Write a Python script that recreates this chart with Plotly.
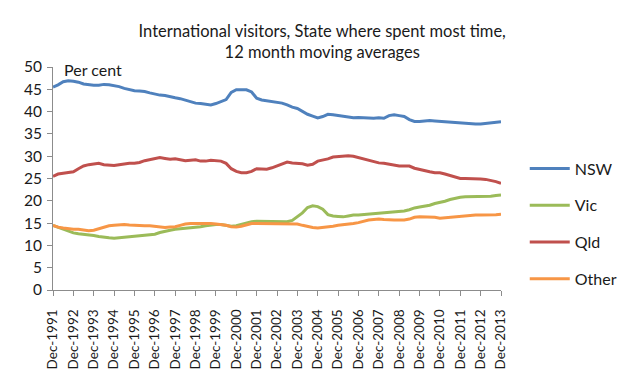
import pandas as pd
import plotly.graph_objects as go

# Quarterly observations, Dec-1991 to Dec-2013 (12 month moving averages, per cent)
quarters = pd.date_range("1991-12-01", "2013-12-01", freq="3MS")

nsw = [45.5, 46.0, 46.7, 46.9, 46.8, 46.6, 46.2, 46.0, 45.9, 45.9, 46.1, 46.0,
       45.8, 45.6, 45.2, 44.9, 44.7, 44.6, 44.5, 44.2, 43.9, 43.7, 43.6, 43.3,
       43.1, 42.9, 42.6, 42.2, 41.9, 41.8, 41.7, 41.5, 41.8, 42.2, 42.7, 44.3,
       44.9, 44.9, 44.9, 44.4, 43.0, 42.6, 42.4, 42.2, 42.1, 41.9, 41.5, 41.0,
       40.7, 40.0, 39.4, 39.0, 38.6, 38.9, 39.4, 39.3, 39.1, 39.0, 38.8, 38.6,
       38.7, 38.6, 38.5, 38.5, 38.6, 38.5, 39.1, 39.3, 39.1, 38.9, 38.2, 37.8,
       37.8, 37.9, 38.0, 37.9, 37.8, 37.7, 37.6, 37.5, 37.4, 37.3, 37.2, 37.2,
       37.2, 37.3, 37.5, 37.6, 37.7]

vic = [14.5, 14.1, 13.7, 13.2, 12.8, 12.6, 12.5, 12.3, 12.2, 12.0, 11.8, 11.7,
       11.6, 11.7, 11.8, 11.9, 12.0, 12.1, 12.2, 12.4, 12.5, 12.9, 13.2, 13.4,
       13.6, 13.7, 13.8, 13.9, 14.0, 14.2, 14.4, 14.6, 14.7, 14.7, 14.5, 14.3,
       14.4, 14.7, 15.0, 15.3, 15.4, 15.4, 15.4, 15.4, 15.3, 15.3, 15.3, 15.6,
       16.4, 17.3, 18.5, 18.9, 18.7, 18.1, 16.9, 16.6, 16.5, 16.4, 16.6, 16.8,
       16.8, 16.9, 17.0, 17.0, 17.1, 17.2, 17.3, 17.4, 17.6, 17.7, 18.0, 18.4,
       18.6, 18.8, 19.0, 19.4, 19.6, 19.9, 20.3, 20.6, 20.8, 20.9, 20.9, 20.9,
       20.9, 20.9, 21.0, 21.2, 21.3]

qld = [25.5, 26.0, 26.2, 26.3, 26.5, 27.2, 27.8, 28.1, 28.3, 28.4, 28.1, 28.0,
       27.9, 28.1, 28.3, 28.4, 28.4, 28.6, 29.0, 29.2, 29.4, 29.7, 29.5, 29.3,
       29.4, 29.2, 29.0, 29.1, 29.2, 28.9, 28.9, 29.1, 29.0, 28.9, 28.4, 27.2,
       26.6, 26.3, 26.3, 26.6, 27.2, 27.1, 27.1, 27.4, 27.8, 28.3, 28.7, 28.5,
       28.4, 28.3, 28.0, 28.2, 28.9, 29.1, 29.4, 29.8, 29.9, 30.0, 30.1, 30.0,
       29.7, 29.4, 29.1, 28.8, 28.5, 28.4, 28.2, 27.9, 27.8, 27.8, 27.8, 27.3,
       27.0, 26.8, 26.5, 26.3, 26.3, 26.0, 25.7, 25.3, 25.0, 25.0, 25.0, 25.0,
       24.9, 24.8, 24.6, 24.3, 23.9]

other = [14.5, 14.1, 13.9, 13.7, 13.6, 13.6, 13.5, 13.3, 13.4, 13.7, 14.1, 14.4,
         14.5, 14.6, 14.7, 14.6, 14.5, 14.5, 14.4, 14.4, 14.3, 14.1, 14.0, 14.1,
         14.2, 14.5, 14.8, 14.9, 14.9, 14.9, 15.0, 14.9, 14.8, 14.7, 14.5, 14.2,
         14.1, 14.3, 14.6, 14.9, 14.9, 14.9, 14.9, 14.9, 14.9, 14.9, 14.9, 14.9,
         14.8, 14.5, 14.2, 14.0, 13.9, 14.0, 14.1, 14.3, 14.5, 14.6, 14.8, 14.9,
         15.1, 15.4, 15.7, 15.8, 15.9, 15.8, 15.7, 15.7, 15.7, 15.7, 15.9, 16.3,
         16.4, 16.4, 16.4, 16.3, 16.1, 16.2, 16.4, 16.5, 16.6, 16.7, 16.8, 16.8,
         16.8, 16.8, 16.9, 16.9, 17.0]

tick_years = list(range(1991, 2014))
tick_dates = [f"{y}-12-01" for y in tick_years]
tick_text = [f"Dec-{y}" for y in tick_years]

series = [("NSW", nsw, "#4F81BD"), ("Vic", vic, "#9BBB59"),
          ("Qld", qld, "#C0504D"), ("Other", other, "#F79646")]

FONT = "Lato"
TXT = "#1a1a1a"
fig = go.Figure()
for name, vals, col in series:
    fig.add_trace(go.Scatter(x=quarters, y=vals, mode="lines", name=name,
                             legendgroup=name,
                             line=dict(color=col, width=3)))

axis_col = "#8C8C8C"
fig.update_layout(
    width=631, height=375,
    margin=dict(l=45, r=138, t=59, b=93),
    paper_bgcolor="white", plot_bgcolor="white",
    font=dict(family=FONT, size=14, color=TXT),
    title=dict(text="International visitors, State where spent most time,<br>12 month moving averages",
               x=0.498, xanchor="center", y=0.924, yanchor="top",
               font=dict(family=FONT, size=16.5, color=TXT)),
    xaxis=dict(type="date", range=["1991-12-01", "2013-12-01"],
               tickvals=tick_dates, ticktext=tick_text, tickangle=-90,
               ticks="outside", ticklen=5, tickcolor=axis_col,
               showline=True, linecolor=axis_col, linewidth=1,
               showgrid=False, zeroline=False, ticklabelstandoff=8,
               tickfont=dict(family=FONT, size=13.5, color=TXT)),
    yaxis=dict(range=[0, 50], dtick=5, ticks="outside", ticklen=5,
               tickcolor=axis_col, showline=True, linecolor=axis_col,
               linewidth=1, showgrid=False, zeroline=False,
               ticklabelstandoff=2,
               tickfont=dict(family=FONT, size=15.5, color=TXT)),
    legend=dict(x=1.053, y=0.296, xanchor="left", yanchor="middle",
                tracegroupgap=13, itemwidth=40,
                font=dict(family=FONT, size=16, color=TXT),
                bgcolor="rgba(0,0,0,0)"),
    showlegend=True,
)
fig.add_annotation(text="Per cent", xref="paper", yref="paper",
                   x=0.02, y=0.99, xanchor="left", yanchor="middle",
                   showarrow=False, font=dict(family=FONT, size=16, color=TXT))

fig.write_html("out.html")
